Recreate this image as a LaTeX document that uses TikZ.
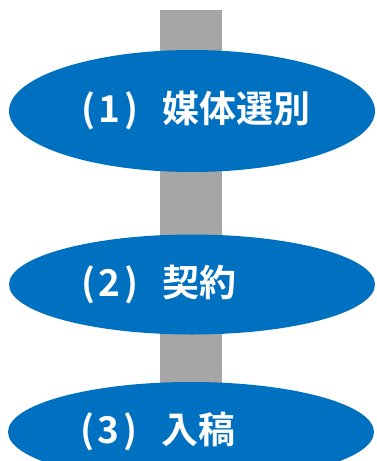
\documentclass[tikz,border=0pt]{standalone}
\usepackage{fontspec}
\newfontfamily\jpfont{Noto Sans CJK JP}[BoldFont=* Bold]
\usepackage{tikz}
\usetikzlibrary{shapes.geometric}
\definecolor{stepblue}{HTML}{0070C0}
\definecolor{bargray}{HTML}{A6A6A6}

\begin{document}
\begin{tikzpicture}[x=1pt, y=-1pt,
    stepoval/.style={ellipse, fill=stepblue, minimum width=366pt, inner sep=0pt,
        text=white, text width=222pt, align=left,
        font=\jpfont\bfseries\fontsize{37}{37}\selectfont}]
    \useasboundingbox (0,0) rectangle (376,461);
    % Vertical bar behind the steps
    \coordinate (top) at (191,10);
    \coordinate (bot) at (191,432);
    \draw[bargray, line width=62pt] (top) -- (bot);
    % Process steps
    \node (e1) at (192,111) [stepoval, minimum height=122pt] {\raisebox{3pt}{(\hspace{0.1em}1\hspace{0.1em})\hspace{0.65em}媒体選別}};
    \node (e2) at (192,284.5) [stepoval, minimum height=100pt] {\raisebox{3pt}{(\hspace{0.1em}2\hspace{0.1em})\hspace{0.65em}契約}};
    \node (e3) at (bot) [stepoval, minimum height=100pt] {\raisebox{3pt}{(\hspace{0.1em}3\hspace{0.1em})\hspace{0.65em}入稿}};
\end{tikzpicture}
\end{document}
